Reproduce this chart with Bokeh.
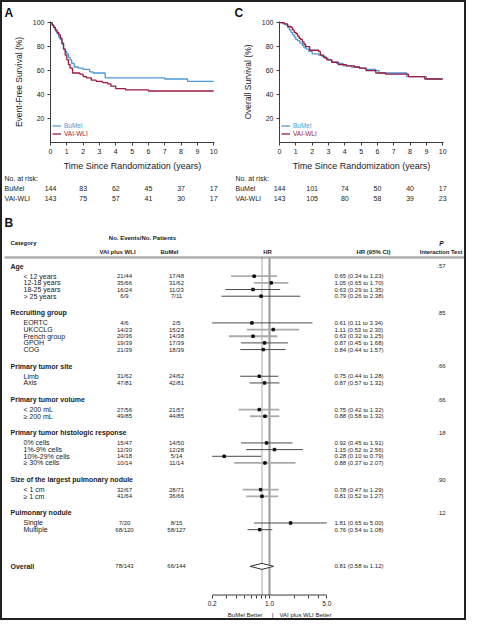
from bokeh.plotting import figure
from bokeh.models import (Range1d, FixedTicker, LogScale, LogAxis, PrintfTickFormatter,
                          Legend, LegendItem)
from bokeh.layouts import column, row
from bokeh.embed import file_html
from bokeh.resources import INLINE
from bokeh.core.properties import value

# ----------------------------- DATA -----------------------------
# Panel A: event-free survival (Kaplan-Meier steps, years / %)
efs_bumel_t = [0, 0.1, 0.2, 0.3, 0.4, 0.5, 0.6, 0.7, 0.8, 0.9, 1.0, 1.1, 1.2, 1.3, 1.45,
               1.7, 2.0, 2.4, 2.6, 3.35, 7.0, 8.4, 10]
efs_bumel_s = [100, 98, 96, 93, 91, 88, 86, 82, 78, 76, 74, 71, 69, 66, 63,
               62, 61, 59, 58, 54, 53, 51, 51]
efs_vai_t = [0, 0.1, 0.2, 0.3, 0.4, 0.5, 0.6, 0.7, 0.8, 0.9, 1.0, 1.1, 1.2, 1.35, 1.8,
             2.0, 2.2, 2.5, 2.8, 3.2, 3.5, 3.7, 4.0, 4.6, 6.0, 10]
efs_vai_s = [100, 98, 96, 94, 92, 90, 87, 83, 78, 73, 69, 65, 62, 58, 57,
             55, 54, 52, 51, 50, 49, 47, 45, 44, 43, 43]

# Panel C: overall survival
os_bumel_t = [0, 0.2, 0.4, 0.5, 0.6, 0.7, 0.8, 0.9, 1.0, 1.1, 1.25, 1.4, 1.5, 1.65, 1.8,
              2.0, 2.4, 2.6, 2.8, 3.0, 3.2, 3.5, 3.9, 4.4, 4.9, 5.3, 5.9, 6.1, 7.8, 9.0, 10]
os_bumel_s = [100, 99, 98, 96, 94, 92, 90, 88, 86, 85, 83, 81, 79, 78, 76,
              74, 73, 72, 70, 69, 67, 66, 64, 63, 62, 61, 60, 58, 55, 53, 53]
os_vai_t = [0, 0.3, 0.5, 0.7, 0.8, 0.9, 1.0, 1.1, 1.2, 1.3, 1.4, 1.5, 1.6, 1.85, 2.4,
            2.5, 2.7, 2.9, 3.2, 3.6, 4.1, 4.6, 4.9, 5.3, 5.9, 6.5, 7.9, 8.9, 10]
os_vai_s = [100, 99, 97, 96, 94, 92, 91, 89, 87, 86, 84, 82, 80, 77, 76,
            73, 71, 69, 67, 65, 64, 63, 62, 60, 58, 57, 55, 53, 53]

# Numbers at risk
risk_years = [0, 2, 4, 6, 8, 10]
efs_risk_bumel = [144, 83, 62, 45, 37, 17]
efs_risk_vai = [143, 75, 57, 41, 30, 17]
os_risk_bumel = [144, 101, 74, 50, 40, 17]
os_risk_vai = [143, 105, 80, 58, 39, 23]

# Panel B: forest plot
groups = ["Age", "Recruiting group", "Primary tumor site", "Primary tumor volume",
          "Primary tumor histologic response", "Size of the largest pulmonary nodule",
          "Pulmonary nodule"]
p_interaction = [".57", ".85", ".66", ".66", ".18", ".90", ".12"]
subgroups = [
    ["< 12 years", "12-18 years", "18-25 years", "> 25 years"],
    ["EORTC", "UKCCLG", "French group", "GPOH", "COG"],
    ["Limb", "Axis"],
    ["< 200 mL", "\u2265 200 mL"],
    ["0% cells", "1%-9% cells", "10%-29% cells", "\u2265 30% cells"],
    ["< 1 cm", "\u2265 1 cm"],
    ["Single", "Multiple"],
]
vai_counts = ["21/44", "35/66", "16/24", "6/9",
              "4/6", "14/23", "20/36", "19/39", "21/39",
              "31/62", "47/81",
              "27/56", "49/85",
              "15/47", "12/30", "14/18", "10/14",
              "32/67", "41/64",
              "7/20", "68/120"]
bumel_counts = ["17/48", "31/62", "11/23", "7/11",
                "2/5", "15/23", "14/38", "17/39", "18/39",
                "24/62", "42/81",
                "21/57", "44/85",
                "14/50", "12/28", "5/14", "11/14",
                "28/71", "36/66",
                "8/15", "58/127"]
hr = [0.65, 1.05, 0.63, 0.79,
      0.61, 1.11, 0.63, 0.87, 0.84,
      0.75, 0.87,
      0.75, 0.88,
      0.92, 1.15, 0.28, 0.88,
      0.78, 0.81,
      1.81, 0.76]
hr_lo = [0.34, 0.65, 0.29, 0.26,
         0.11, 0.53, 0.32, 0.45, 0.44,
         0.44, 0.57,
         0.42, 0.58,
         0.45, 0.52, 0.10, 0.37,
         0.47, 0.52,
         0.65, 0.54]
hr_hi = [1.23, 1.70, 1.35, 2.38,
         3.34, 2.30, 1.25, 1.68, 1.57,
         1.28, 1.32,
         1.32, 1.32,
         1.91, 2.56, 0.79, 2.07,
         1.29, 1.27,
         5.00, 1.08]
overall_vai = "78/143"
overall_bumel = "66/144"
overall_hr, overall_lo, overall_hi = 0.81, 0.58, 1.12

# ----------------------------- STYLE -----------------------------
SANS = "Liberation Sans"
BLUE = "#4f98d4"
RED = "#9c1b3e"
AXC = "#3c3c3c"
TXT = "#222222"
DARK = "#4a4a4a"
LIGHT = "#aaaaaa"
ci_color = [LIGHT, LIGHT, DARK, DARK,
            DARK, LIGHT, LIGHT, DARK, DARK,
            DARK, DARK,
            LIGHT, LIGHT,
            DARK, DARK, DARK, LIGHT,
            LIGHT, LIGHT,
            DARK, DARK]

HALF = 231
KM_FH = 121
X_END = 10.05
Y_END = 101


def km_panel(letter, letter_dx, ylabel, tb, sb, tv, sv, left, right):
    fw = HALF - left - right
    p = figure(frame_width=fw, frame_height=KM_FH,
               x_range=Range1d(0, X_END), y_range=Range1d(0, Y_END),
               min_border_left=left, min_border_right=right,
               min_border_top=17, min_border_bottom=27,
               output_backend="svg", toolbar_location=None)
    p.outline_line_color = None
    p.grid.visible = False
    p.title.text = letter
    p.title.align = "left"
    p.title.offset = letter_dx
    p.title.standoff = 3
    p.title.text_font = SANS
    p.title.text_font_size = "12px"
    p.title.text_font_style = "bold"
    p.title.text_color = "#111111"
    rb = p.step(tb, sb, mode="after", line_color=BLUE, line_width=1.3)
    rv = p.step(tv, sv, mode="after", line_color=RED, line_width=1.3)
    xa, ya = p.xaxis[0], p.yaxis[0]
    xa.ticker = FixedTicker(ticks=list(range(0, 11)))
    ya.ticker = FixedTicker(ticks=[20, 40, 60, 80, 100])
    for a in (xa, ya):
        a.axis_line_color = AXC
        a.major_tick_line_color = AXC
        a.major_tick_out = 3
        a.major_tick_in = 0
        a.minor_tick_line_color = None
        a.major_label_text_font = SANS
        a.major_label_text_font_size = "7px"
        a.major_label_text_color = TXT
        a.major_label_standoff = 3
        a.axis_label_text_font = SANS
        a.axis_label_text_font_style = "normal"
        a.axis_label_text_color = TXT
        a.axis_label_standoff = 4
    xa.axis_label = "Time Since Randomization (years)"
    xa.axis_label_text_font_size = "9px"
    ya.axis_label = ylabel
    ya.axis_label_text_font_size = "8.5px"
    ya.axis_label_standoff = 6
    for i, (r, lab, col) in enumerate([(rb, "BuMel", BLUE), (rv, "VAI-WLI", RED)]):
        lg = Legend(items=[LegendItem(label=lab, renderers=[r])],
                    location=(2, 13.5 - 8 * i), padding=0, margin=0, spacing=0,
                    glyph_width=9, glyph_height=7, label_height=7, label_standoff=3,
                    label_text_font=SANS, label_text_font_size="6.5px",
                    label_text_color=col, border_line_color=None,
                    background_fill_alpha=0)
        p.add_layout(lg)
    return p


def risk_panel(left, right, rb, rv, label_dx):
    fw = HALF - left - right
    ppy = fw / X_END
    x0 = -left / ppy
    x1 = X_END + right / ppy
    p = figure(frame_width=HALF, frame_height=32, x_range=Range1d(x0, x1),
               y_range=Range1d(2.7, -0.5), min_border=0, x_axis_type=None,
               y_axis_type=None, output_backend="svg", toolbar_location=None)
    p.outline_line_color = None
    lx = x0 + label_dx / ppy
    common = dict(text_font=value(SANS), text_font_size=value("7px"),
                  text_baseline="middle", text_color=TXT)
    p.text(x=[lx] * 3, y=[0, 1, 2], text=["No. at risk:", "BuMel", "VAI-WLI"],
           text_align="left", **common)
    p.text(x=risk_years, y=[1] * len(risk_years), text=[str(v) for v in rb],
           text_align="center", **common)
    p.text(x=risk_years, y=[2] * len(risk_years), text=[str(v) for v in rv],
           text_align="center", **common)
    return p


pA = km_panel("A", -46, "Event-Free Survival (%)", efs_bumel_t, efs_bumel_s,
              efs_vai_t, efs_vai_s, 48, 19)
pC = km_panel("C", -45, "Overall Survival (%)", os_bumel_t, os_bumel_s,
              os_vai_t, os_vai_s, 46, 21)
rA = risk_panel(48, 19, efs_risk_bumel, efs_risk_vai, 2)
rC = risk_panel(46, 21, os_risk_bumel, os_risk_vai, 2)

# ----------------------------- FOREST -----------------------------
FW_F = 462
FH_F = 413
PX_U = 6.67
U_TOP = -9.1
U_BOT = U_TOP + FH_F / PX_U
X0, X1 = 5, 467
HR_PX1 = 272.0
HR_PXDEC = 82.0
AXIS_U = 49.3
LINE_TOP_U = -1.3
HR_MIN, HR_MAX = 0.2, 5.0

hr_range = Range1d(10 ** ((X0 - HR_PX1) / HR_PXDEC), 10 ** ((X1 - HR_PX1) / HR_PXDEC))
pf = figure(frame_width=FW_F, frame_height=FH_F, x_range=Range1d(X0, X1),
            y_range=Range1d(U_BOT, U_TOP), extra_x_ranges={"hr": hr_range},
            extra_x_scales={"hr": LogScale()}, min_border=0,
            x_axis_type=None, y_axis_type=None,
            output_backend="svg", toolbar_location=None)
pf.outline_line_color = None

header_u, sub_u = [], []
u = 0.0
for gi, g in enumerate(groups):
    header_u.append(u)
    u += 1.5
    for s in subgroups[gi]:
        sub_u.append(u)
        u += 1
    u += 1.5
overall_u = sub_u[-1] + 5.5
sub_labels = [s for grp in subgroups for s in grp]


def txt(x, y, t, size="7px", style="normal", align="left", color=TXT):
    pf.text(x=x, y=y, text=t, text_font=value(SANS), text_font_size=value(size),
            text_font_style=style, text_align=align, text_baseline="middle",
            text_color=color)


# headers
txt([7], [-6.5], ["B"], size="12px", style="bold", color="#111111")
txt([13], [-3.5], ["Category"], size="6px", style="bold")
txt([145], [-4.3], ["No. Events/No. Patients"], size="6px", style="bold", align="center")
txt([120, 172, 270, 376], [-2.2] * 4,
    ["VAI plus WLI", "BuMel", "HR", "HR (95% CI)"],
    size="6px", style="bold", align="center")
txt([465], [-2.2], ["Interaction Test"], size="5.8px", style="bold", align="right")
txt([444], [-3.4], ["P"], size="6.5px", style="bold italic", align="center")
pf.segment(x0=[7], x1=[467], y0=[-1.3], y1=[-1.3], line_color="#b0b0b0", line_width=2.5)

# group rows
txt([13] * len(groups), header_u, groups, size="7px", style="bold")
txt([444] * len(groups), header_u, p_interaction, size="6px", align="center")
# subgroup rows
txt([26] * len(sub_labels), sub_u, sub_labels, size="7px")
txt([127] * len(sub_u), sub_u, vai_counts, size="6px", align="center")
txt([179] * len(sub_u), sub_u, bumel_counts, size="6px", align="center")
ci_text = ["%.2f (%.2f to %.2f)" % (h, lo, hi) for h, lo, hi in zip(hr, hr_lo, hr_hi)]
txt([337] * len(sub_u), sub_u, ci_text, size="6px")
# overall row
txt([13], [overall_u], ["Overall"], size="7px", style="bold")
txt([127], [overall_u], [overall_vai], size="6px", align="center")
txt([179], [overall_u], [overall_bumel], size="6px", align="center")
txt([337], [overall_u], ["%.2f (%.2f to %.2f)" % (overall_hr, overall_lo, overall_hi)], size="6px")

# reference lines
pf.segment(x0=[1.0], x1=[1.0], y0=[LINE_TOP_U], y1=[AXIS_U], x_range_name="hr",
           line_color="#9a9a9a", line_width=2)
pf.segment(x0=[overall_hr], x1=[overall_hr], y0=[LINE_TOP_U], y1=[AXIS_U],
           x_range_name="hr", line_color="#555555", line_width=1, line_dash="1 1")

# CIs and estimates
ci_w = [1.0 if c == DARK else 1.8 for c in ci_color]
pf.segment(x0=[max(lo, HR_MIN) for lo in hr_lo], x1=[min(hi, HR_MAX) for hi in hr_hi],
           y0=sub_u, y1=sub_u, x_range_name="hr", line_color=ci_color, line_width=ci_w)
pf.scatter(x=hr, y=sub_u, marker="square", size=2.5, color="#111111", x_range_name="hr")
pf.patch(x=[overall_lo, overall_hr, overall_hi, overall_hr],
         y=[overall_u, overall_u - 0.45, overall_u, overall_u + 0.45],
         x_range_name="hr", fill_color="white", line_color="#333333", line_width=1)

# HR axis
pf.segment(x0=[HR_MIN], x1=[HR_MAX], y0=[AXIS_U], y1=[AXIS_U], x_range_name="hr",
           line_color=AXC, line_width=1)
hax = LogAxis(x_range_name="hr", fixed_location=AXIS_U,
              ticker=FixedTicker(ticks=[0.2, 1.0, 5.0],
                                 minor_ticks=[0.3, 0.4, 0.5, 0.6, 0.7, 0.8, 0.9, 2, 3, 4]),
              formatter=PrintfTickFormatter(format="%.1f"))
hax.axis_line_color = None
hax.major_tick_line_color = AXC
hax.minor_tick_line_color = AXC
hax.major_tick_out = 3
hax.major_tick_in = 0
hax.minor_tick_out = 3
hax.minor_tick_in = 0
hax.major_label_text_font = SANS
hax.major_label_text_font_size = "6.5px"
hax.major_label_text_color = TXT
hax.major_label_standoff = 3
pf.add_layout(hax, "below")

txt([265], [52.35], ["BuMel Better"], size="6px", align="right")
txt([275], [52.35], ["|"], size="6px", align="center")
txt([282], [52.35], ["VAI plus WLI Better"], size="6px")

layout = column(row(pA, pC), row(rA, rC), pf,
                styles={"border": "2px solid #222222", "background-color": "white"})

open("out.html", "w").write(file_html(layout, INLINE))
